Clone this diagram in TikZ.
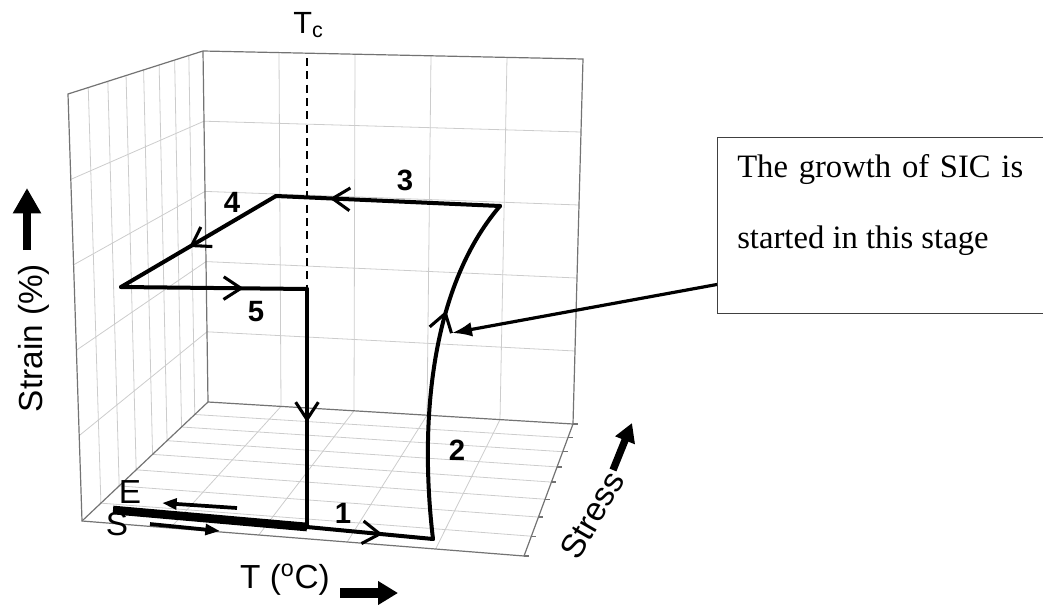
\documentclass[tikz,border=0pt]{standalone}
\usepackage{fontspec}
\setmainfont{Liberation Serif}
\setsansfont{Liberation Sans}
\usetikzlibrary{arrows.meta,calc,decorations.markings}
\begin{document}
\begin{tikzpicture}[x=0.75pt,y=-0.75pt,
  gridline/.style={draw=black!20, line width=0.6pt},
  edgeline/.style={draw=black!55, line width=0.9pt},
  cyc/.style={line width=3pt, line cap=round, line join=round},
  midbarb/.style={postaction={decorate}, decoration={markings,
     mark=at position #1 with {\arrow{Straight Barb[length=13pt,width=17pt,line width=2.3pt]}}}},
  lab/.style={font=\sffamily\fontsize{25}{29}\selectfont, inner sep=0pt},
  num/.style={font=\sffamily\bfseries\fontsize{22}{26}\selectfont, inner sep=0pt},
  tcline/.style={line width=2pt, dash pattern=on 6pt off 4pt},
  fatarrow/.style={line width=#1},
]
\useasboundingbox (0,0) rectangle (1043,607);
% frame corners
\coordinate (A) at (203,51);
\coordinate (B) at (583,59);
\coordinate (C) at (573,424);
\coordinate (D) at (208,402);
\coordinate (E) at (68,94);
\coordinate (F) at (82,521);
\coordinate (G) at (524,556);
% grids
\foreach \t in {0.2,0.4,0.6,0.8} {
  \draw[gridline] ($(A)!\t!(B)$) -- ($(D)!\t!(C)$);
  \draw[gridline] ($(A)!\t!(D)$) -- ($(B)!\t!(C)$);
  \draw[gridline] ($(E)!\t!(F)$) -- ($(A)!\t!(D)$);
  \draw[gridline] ($(F)!\t!(G)$) -- ($(D)!\t!(C)$);
}
\foreach \f in {0.15,0.295,0.43,0.56,0.675,0.79,0.895} {
  \draw[gridline] ($(E)!\f!(A)$) -- ($(F)!\f!(D)$);
  \draw[gridline] ($(F)!\f!(D)$) -- ($(G)!\f!(C)$);
}
\foreach \f in {0,0.15,0.295,0.43,0.56,0.675,0.79,0.895,1} {
  \draw[edgeline] ($(G)!\f!(C)$) -- ++(5,0);
}
% frame edges
\draw[edgeline] (E) -- (A) -- (B) -- (C) -- (G) -- (F) -- cycle;
\draw[edgeline] (A) -- (D) -- (C);
\draw[edgeline] (D) -- (F);
% cycle points
\coordinate (P0) at (113,510);
\coordinate (Pm) at (307,527);
\coordinate (P1) at (433,539);
\coordinate (P2) at (500,206);
\coordinate (P3) at (276,196);
\coordinate (P4) at (121,287);
\coordinate (P5) at (307,289);
\coordinate (tctop) at (307,58);
% Tc line
\draw[tcline] (tctop) -- (P5);
\node[lab, font=\sffamily\fontsize{23}{26}\selectfont, anchor=base west] (tc) at (293,33) {T\textsubscript{c}};
% cycle
\draw[line width=6.5pt] (P0) -- (Pm);
\draw[cyc, midbarb=0.6] (Pm) -- (P1);
\draw[cyc, midbarb=0.66] (P1) .. controls (420,430) and (428,290) .. (P2);
\draw[cyc, midbarb=0.76] (P2) -- (P3);
\draw[cyc, midbarb=0.56] (P3) -- (P4);
\draw[cyc, midbarb=0.66] (P4) -- (P5);
\draw[cyc, midbarb=0.56] (P5) -- (Pm);
% numbers
\node[num] (n1) at (343,513) {1};
\node[num] (n2) at (457,450) {2};
\node[num] (n3) at (405,180) {3};
\node[num] (n4) at (232,202) {4};
\node[num] (n5) at (256,312) {5};
% E and S
\node[lab] (Elab) at (130,492) {E};
\node[lab] (Slab) at (117,524) {S};
\coordinate (ea1) at (237,508);
\coordinate (ea2) at (162,503);
\coordinate (sa1) at (150,524);
\coordinate (sa2) at (220,531);
\draw[fatarrow=2.8pt, -{Triangle[length=11pt,width=8pt]}] (ea1) -- (ea2);
\draw[fatarrow=2.8pt, -{Triangle[length=11pt,width=8pt]}] (sa1) -- (sa2);
% axis labels
\node[lab, rotate=90] (strain) at (34,338) {Strain (\%)};
\coordinate (st1) at (27,250);
\coordinate (st2) at (27,188);
\draw[fatarrow=6pt, -{Triangle[length=19pt,width=20pt]}] (st1) -- (st2);
\node[lab] (tlab) at (285,580) {T (\textsuperscript{o}C)};
\coordinate (ta1) at (340,593);
\coordinate (ta2) at (398,593);
\draw[fatarrow=7pt, -{Triangle[length=15pt,width=17pt]}] (ta1) -- (ta2);
\node[lab, rotate=60] (stress) at (592,515) {Stress};
\coordinate (sr1) at (613,470);
\coordinate (sr2) at (632,423);
\draw[fatarrow=5.5pt, -{Triangle[length=14pt,width=15pt]}] (sr1) -- (sr2);
% callout box
\node[draw=black!75, line width=1.1pt, minimum width=248.25pt, minimum height=132pt,
      anchor=north west, inner sep=0pt] (box) at (717,137) {};
\node[anchor=base west, inner sep=0pt, font=\fontsize{24.5}{29}\selectfont] (l1) at (737,177)
   {\makebox[214.5pt][s]{The growth of SIC is}};
\node[anchor=base west, inner sep=0pt, font=\fontsize{24.5}{29}\selectfont] (l2) at (737,248)
   {started in this stage};
\coordinate (tip) at (452,333);
\draw[line width=2.4pt, -{Latex[length=15pt,width=11pt]}] ([yshift=22.5pt]box.south west) -- (tip);
\end{tikzpicture}
\end{document}
